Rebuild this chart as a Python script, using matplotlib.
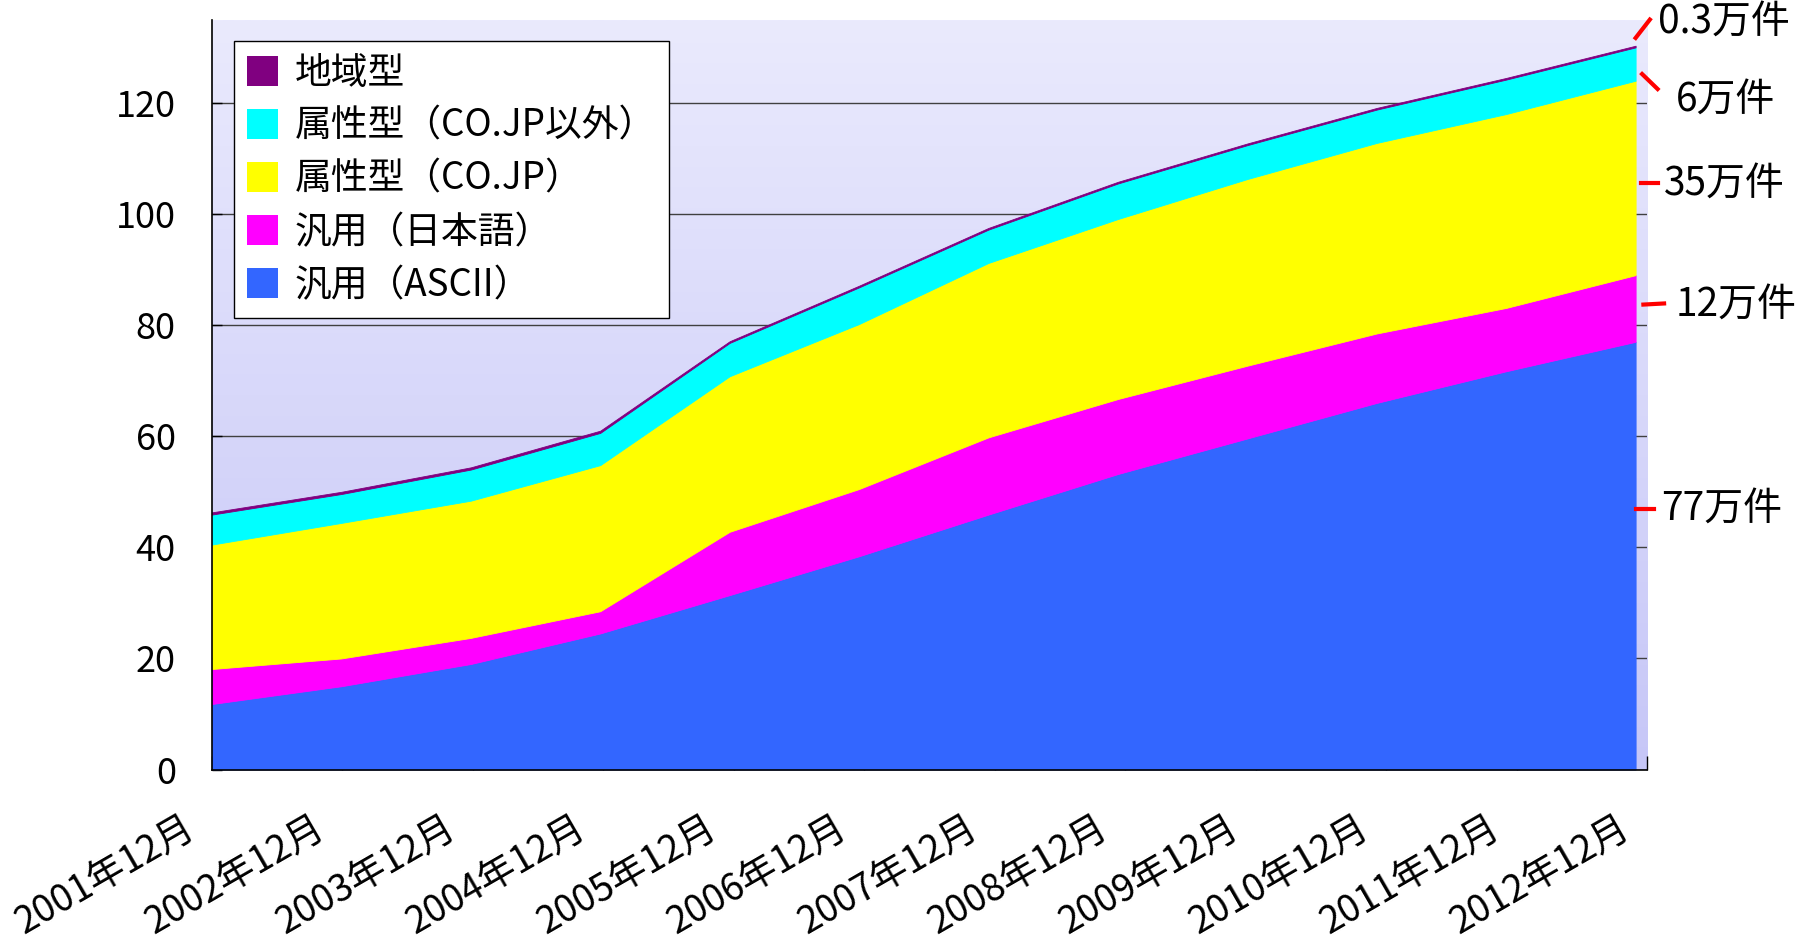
import matplotlib.pyplot as plt
import matplotlib.transforms as mtransforms
import numpy as np
from matplotlib.patches import Patch
from matplotlib.colors import LinearSegmentedColormap

plt.rcParams['font.family'] = ['Noto Sans CJK JP', 'DejaVu Sans']

# データ (万件)
years = ['2001年12月', '2002年12月', '2003年12月', '2004年12月', '2005年12月', '2006年12月',
         '2007年12月', '2008年12月', '2009年12月', '2010年12月', '2011年12月', '2012年12月']
ascii_vals = [11.8, 15.0, 19.0, 24.5, 31.4, 38.4, 45.9, 53.2, 59.6, 66.0, 71.7, 77.0]
jp_vals = [6.3, 5.0, 4.7, 4.0, 11.4, 12.1, 13.9, 13.5, 13.1, 12.5, 11.4, 12.0]
cojp_vals = [22.4, 24.4, 24.7, 26.3, 28.0, 29.7, 31.4, 32.4, 33.6, 34.3, 34.9, 35.0]
other_vals = [5.4, 5.2, 5.6, 5.8, 6.0, 6.6, 6.0, 6.4, 6.1, 6.0, 6.2, 6.0]
geo_vals = [0.4, 0.4, 0.4, 0.4, 0.3, 0.3, 0.3, 0.3, 0.3, 0.3, 0.3, 0.3]

names = ['汎用（ASCII）', '汎用（日本語）', '属性型（CO.JP）', '属性型（CO.JP以外）', '地域型']
colors = ['#3366FF', '#FF00FF', '#FFFF00', '#00FFFF', '#800080']
side_labels = ['77万件', '12万件', '35万件', '6万件', '0.3万件']

fig = plt.figure(figsize=(18.07, 9.51), dpi=100)
ax = fig.add_axes([0.1173, 0.1908, 0.7943, 0.7886])

x = np.arange(len(years))
xmax = len(years) - 1 + 0.09

# 背景グラデーション
grad = np.linspace(0, 1, 256).reshape(-1, 1)
cmap = LinearSegmentedColormap.from_list('bg', ['#EAEAFD', '#C6C6F7'])
ax.imshow(grad, cmap=cmap, aspect='auto', extent=[0, 1, 0, 1],
          transform=ax.transAxes, zorder=0)

ax.set_xlim(0, xmax)
ax.set_ylim(0, 135)
ax.set_yticks(range(0, 121, 20))
ax.yaxis.grid(True, color='#404040', linewidth=1.0, zorder=1)
ax.set_axisbelow(True)

stack = ax.stackplot(x, ascii_vals, jp_vals, cojp_vals, other_vals, geo_vals,
                     colors=colors, linewidth=0.6, zorder=2)
for poly, c in zip(stack, colors):
    poly.set_edgecolor(c)

# x 軸
ticks = np.arange(len(years)) * xmax / (len(years) - 1)
ax.set_xticks(ticks)
ax.set_xticklabels(years, rotation=30, ha='right', va='top', rotation_mode='anchor',
                   fontsize=27)
ax.tick_params(axis='x', direction='in', length=10, width=1, pad=28)
offset = mtransforms.ScaledTranslation(-30 / 100, 0, fig.dpi_scale_trans)
for lab in ax.get_xticklabels():
    lab.set_transform(lab.get_transform() + offset)
ax.tick_params(axis='y', direction='in', length=7, width=1, labelsize=26, pad=26)

for s in ['top', 'right']:
    ax.spines[s].set_visible(False)
ax.spines['left'].set_linewidth(1.2)
ax.spines['bottom'].set_linewidth(1.2)

# 凡例
handles = [Patch(facecolor=c, edgecolor='none') for c in colors][::-1]
leg = ax.legend(handles, names[::-1], loc='upper left', bbox_to_anchor=(0.0153, 0.9715),
                borderaxespad=0, fontsize=26.5, frameon=True, fancybox=False,
                edgecolor='black', framealpha=1, handlelength=0.85, handleheight=0.85,
                handletextpad=0.45, labelspacing=0.38, borderpad=0.35)
leg.get_frame().set_linewidth(1.0)

# 右側の注記
seg = [((11.0, 11.14), (46.9, 46.9)),
       ((11.06, 11.22), (83.7, 83.9)),
       ((11.04, 11.17), (105.5, 105.5)),
       ((11.05, 11.17), (125.2, 122.5)),
       ((11.0, 11.11), (131.7, 135.0))]
txt = [(11.2, 46.9), (11.31, 83.7), (11.22, 105.5), (11.31, 120.5), (11.17, 134.6)]
for (sx, sy), (tx, ty), lab in zip(seg, txt, side_labels):
    ax.plot(sx, sy, color='red', linewidth=3, clip_on=False, zorder=5)
    ax.text(tx, ty, lab, fontsize=28, ha='left', va='center', clip_on=False)

plt.savefig('out.png', dpi=100)
